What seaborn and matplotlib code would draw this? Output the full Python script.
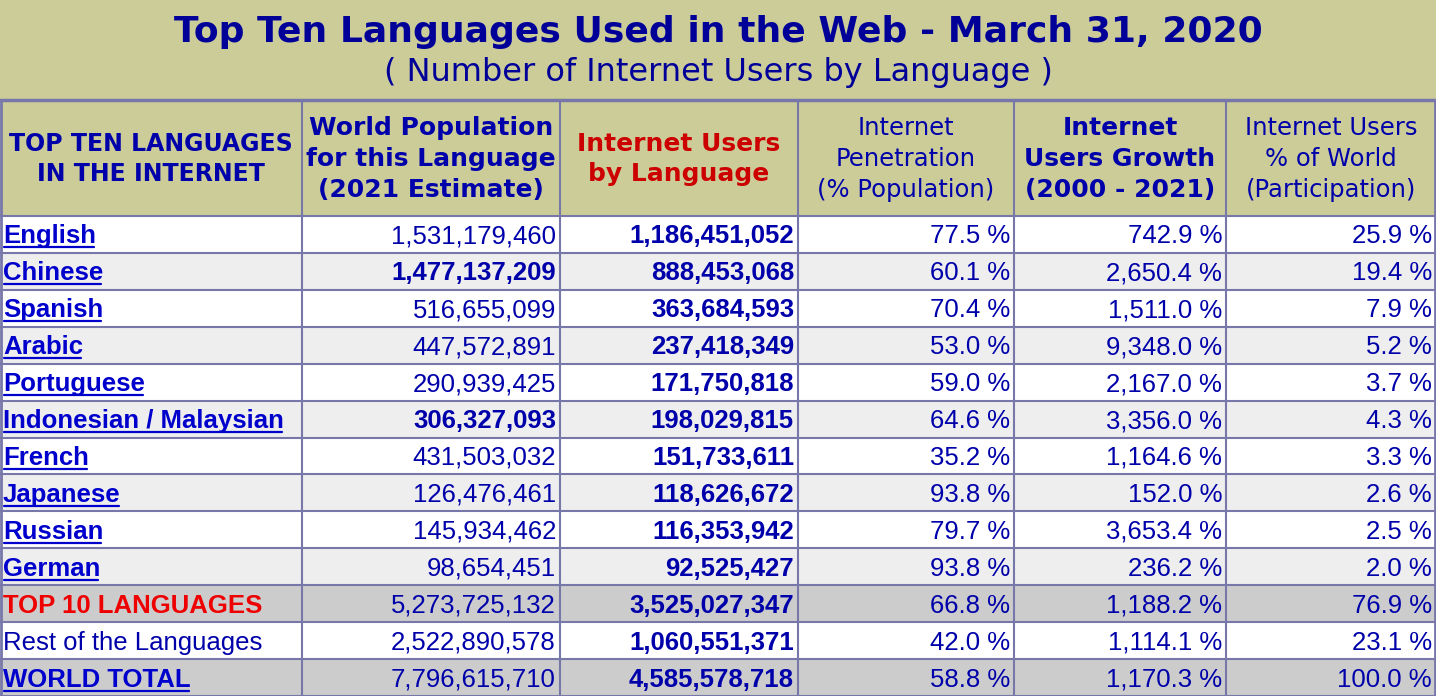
import matplotlib
matplotlib.use("Agg")
import matplotlib.pyplot as plt
import seaborn as sns

sns.set_theme(style="white")

title = "Top Ten Languages Used in the Web - March 31, 2020"
subtitle = "( Number of Internet Users by Language )"

headers = ["TOP TEN LANGUAGES\nIN THE INTERNET",
           "World Population\nfor this Language\n(2021 Estimate)",
           "Internet Users\nby Language",
           "Internet\nPenetration\n(% Population)",
           "Internet\nUsers Growth\n(2000 - 2021)",
           "Internet Users\n% of World\n(Participation)"]

languages = ["English", "Chinese", "Spanish", "Arabic", "Portuguese",
             "Indonesian / Malaysian", "French", "Japanese", "Russian", "German",
             "TOP 10 LANGUAGES", "Rest of the Languages", "WORLD TOTAL"]
population = ["1,531,179,460", "1,477,137,209", "516,655,099", "447,572,891",
              "290,939,425", "306,327,093", "431,503,032", "126,476,461",
              "145,934,462", "98,654,451", "5,273,725,132", "2,522,890,578",
              "7,796,615,710"]
users = ["1,186,451,052", "888,453,068", "363,684,593", "237,418,349",
         "171,750,818", "198,029,815", "151,733,611", "118,626,672",
         "116,353,942", "92,525,427", "3,525,027,347", "1,060,551,371",
         "4,585,578,718"]
penetration = ["77.5 %", "60.1 %", "70.4 %", "53.0 %", "59.0 %", "64.6 %",
               "35.2 %", "93.8 %", "79.7 %", "93.8 %", "66.8 %", "42.0 %", "58.8 %"]
growth = ["742.9 %", "2,650.4 %", "1,511.0 %", "9,348.0 %", "2,167.0 %",
          "3,356.0 %", "1,164.6 %", "152.0 %", "3,653.4 %", "236.2 %",
          "1,188.2 %", "1,114.1 %", "1,170.3 %"]
share = ["25.9 %", "19.4 %", "7.9 %", "5.2 %", "3.7 %", "4.3 %", "3.3 %",
         "2.6 %", "2.5 %", "2.0 %", "76.9 %", "23.1 %", "100.0 %"]
bold_population = {"Chinese", "Indonesian / Malaysian"}

W, H = 1436, 696
col_x = [0, 302, 560, 798, 1014, 1226, 1436]
head_top, head_bot = 100, 216
row_h = (H - head_bot) / len(languages)

khaki = "#CCCC99"
border = "#7777AA"
navy = "#0000AA"

fig = plt.figure(figsize=(W / 100, H / 100), dpi=100)
ax = fig.add_axes([0, 0, 1, 1])
ax.set_xlim(0, W)
ax.set_ylim(H, 0)
ax.axis("off")

ax.add_patch(plt.Rectangle((0, 0), W, head_bot, color=khaki, zorder=0))
ax.text(W / 2, 32, title, ha="center", va="center", fontsize=26,
        fontweight="bold", color="#000099", family="DejaVu Sans")
ax.text(W / 2, 73, subtitle, ha="center", va="center", fontsize=23,
        color="#000099", family="DejaVu Sans")

header_sizes = [17, 18, 18, 17.5, 18, 17.5]
for i, h in enumerate(headers):
    cx = (col_x[i] + col_x[i + 1]) / 2
    bold = i in (0, 1, 2, 4)
    ax.text(cx, (head_top + head_bot) / 2 + 1, h, ha="center", va="center",
            fontsize=header_sizes[i],
            fontweight="bold" if bold else "medium",
            color="#CC0000" if i == 2 else navy, family="DejaVu Sans",
            linespacing=1.35)

fig.canvas.draw()
renderer = fig.canvas.get_renderer()


def underline(t):
    bb = t.get_window_extent(renderer)
    y = H - bb.y0 - 1
    ax.plot([bb.x0 + 1, bb.x1 - 2], [y, y], color=t.get_color(), lw=1.6, zorder=3)


for r, lang in enumerate(languages):
    y0 = head_bot + r * row_h
    if r >= 10 and r != 11:
        bg = "#CCCCCC"
    elif r % 2 == 1 and r < 10:
        bg = "#EEEEEE"
    else:
        bg = "white"
    ax.add_patch(plt.Rectangle((0, y0), W, row_h, color=bg, zorder=0))
    yc = y0 + row_h / 2 + 2
    if lang == "TOP 10 LANGUAGES":
        t = ax.text(3, yc, lang, ha="left", va="center", fontsize=18.5,
                    fontweight="bold", color="#EE0000", family="Liberation Sans")
    elif lang == "Rest of the Languages":
        t = ax.text(3, yc, lang, ha="left", va="center", fontsize=18.5,
                    color=navy, family="Liberation Sans")
    else:
        t = ax.text(3, yc, lang, ha="left", va="center", fontsize=18.5,
                    fontweight="bold", color="#0000CC", family="Liberation Sans")
        underline(t)
    vals = [population[r], users[r], penetration[r], growth[r], share[r]]
    for c, v in enumerate(vals):
        bold = c == 1 or (c == 0 and lang in bold_population)
        ax.text(col_x[c + 2] - 4, yc, v, ha="right", va="center", fontsize=18.5,
                fontweight="bold" if bold else "normal", color=navy,
                family="Liberation Sans")

# grid lines
for x in col_x[1:-1]:
    ax.plot([x, x], [head_top, H], color=border, lw=1.5, zorder=2)
ax.plot([0, W], [head_top, head_top], color=border, lw=2.5, zorder=2)
for r in range(len(languages) + 1):
    y = head_bot + r * row_h
    ax.plot([0, W], [y, y], color=border, lw=1.5, zorder=2)
ax.plot([1, 1], [head_top, H], color=border, lw=2, zorder=2)
ax.plot([W - 1, W - 1], [head_top, H], color=border, lw=2, zorder=2)

fig.savefig("out.png", dpi=100)
